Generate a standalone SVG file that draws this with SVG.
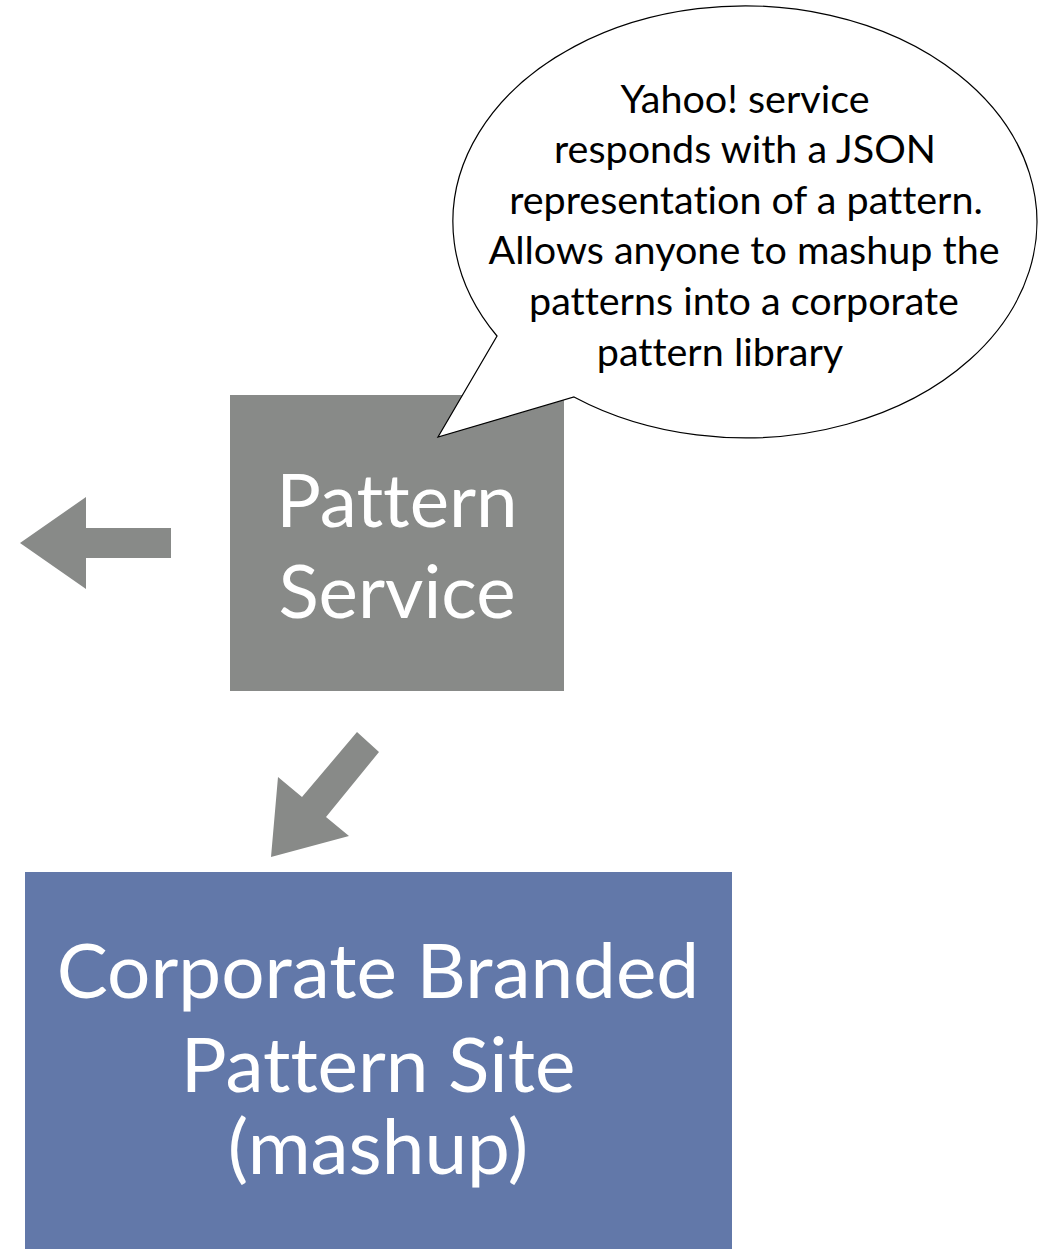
<svg xmlns="http://www.w3.org/2000/svg" width="1040" height="1249" viewBox="0 0 1040 1249">
<style>
.gray{fill:#888a88}
.blue{fill:#6278a9}
text{font-variant-ligatures:none}
.big{font-family:Lato,"Open Sans","Liberation Sans",sans-serif;fill:#fff;text-anchor:middle}
.note{font-family:Lato,"Open Sans","Liberation Sans",sans-serif;fill:#000;font-size:39.5px;text-anchor:middle}
</style>
<rect width="1040" height="1249" fill="#fff"/>
<g id="pattern-service">
<rect class="gray" x="230" y="395" width="334" height="296"/>
<text class="big" font-size="74.5" x="397" y="527">Pattern</text>
<text class="big" font-size="74.5" x="397" y="618">Service</text>
</g>
<g id="callout">
<path d="M497,336 A292,216 0 1 1 574,397 L438,437 Z" fill="#fff" stroke="#000" stroke-width="1.2"/>
<text class="note" x="745" y="113">Yahoo! service</text>
<text class="note" x="745" y="163">responds with a JSON</text>
<text class="note" x="746" y="214">representation of a pattern.</text>
<text class="note" x="744" y="264">Allows anyone to mashup the</text>
<text class="note" x="744" y="315">patterns into a corporate</text>
<text class="note" x="720" y="366">pattern library</text>
</g>
<g id="corporate-site">
<rect class="blue" x="25" y="872" width="707" height="377"/>
<text class="big" font-size="76.5" x="378" y="998">Corporate Branded</text>
<text class="big" font-size="76.5" x="378" y="1092">Pattern Site</text>
<text class="big" font-size="76.5" x="378" y="1174">(mashup)</text>
</g>
<g id="connectors">
<polygon class="gray" points="20,543 86,497 86,528 171,528 171,558 86,558 86,589"/>
<polygon class="gray" points="357,732 379,752 326,817 349,836 271,857 278,777 302,797"/>
</g>
</svg>
